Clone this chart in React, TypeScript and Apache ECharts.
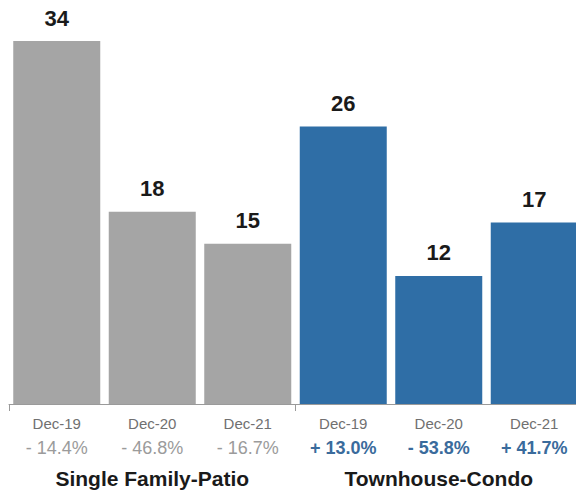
import React, { useEffect, useRef } from "react";
import * as echarts from "echarts";

const categories = ["Dec-19", "Dec-20", "Dec-21", "Dec-19", "Dec-20", "Dec-21"];
const values = [34, 18, 15, 26, 12, 17];
const changes = ["- 14.4%", "- 46.8%", "- 16.7%", "+ 13.0%", "- 53.8%", "+ 41.7%"];
const groups = ["Single Family-Patio", "Townhouse-Condo"];
const groupOf = [0, 0, 0, 1, 1, 1];

const GRAY = "#a5a5a5";
const BLUE = "#2f6ea6";
const FONT = "'Liberation Sans', Arial, Helvetica, sans-serif";

export default function App() {
  const ref = useRef<HTMLDivElement>(null);
  useEffect(() => {
    if (!ref.current) return;
    const chart = echarts.init(ref.current, undefined, { renderer: "svg" });
    chart.setOption({
      animation: false,
      backgroundColor: "#ffffff",
      textStyle: { fontFamily: FONT },
      grid: { left: 9, top: 41, right: 8, bottom: 88, containLabel: false },
      xAxis: [
        {
          type: "category",
          data: categories,
          position: "bottom",
          axisLine: { lineStyle: { color: "#9a9a9a", width: 1 } },
          axisTick: {
            show: true,
            length: 7,
            interval: (i: number) => i % 3 === 0,
            lineStyle: { color: "#9a9a9a" },
          },
          axisLabel: {
            margin: 8,
            interval: 0,
            formatter: (v: string, i: number) =>
              `{d|${v}}\n{${groupOf[i] === 0 ? "g" : "b"}|${changes[i]}}`,
            rich: {
              d: { fontSize: 15, color: "#707070", lineHeight: 22, fontFamily: FONT },
              g: { fontSize: 18, color: "#9b9b9b", lineHeight: 28, fontFamily: FONT },
              b: { fontSize: 18, color: "#3a6b9c", fontWeight: "bold", lineHeight: 28, fontFamily: FONT },
            },
          },
        },
        {
          type: "category",
          data: groups,
          position: "bottom",
          axisLine: { show: false },
          axisTick: { show: false },
          axisLabel: {
            margin: 64,
            interval: 0,
            fontSize: 21,
            fontWeight: "bold",
            color: "#1a1a1a",
            fontFamily: FONT,
          },
        },
      ],
      yAxis: {
        type: "value",
        min: 0,
        max: 34,
        show: false,
        splitLine: { show: false },
      },
      series: [
        {
          type: "bar",
          xAxisIndex: 0,
          barWidth: 87,
          data: values.map((v, i) => ({
            value: v,
            itemStyle: { color: groupOf[i] === 0 ? GRAY : BLUE },
          })),
          label: {
            show: true,
            position: "top",
            distance: 12,
            fontSize: 22,
            fontWeight: "bold",
            color: "#1a1a1a",
            fontFamily: FONT,
          },
        },
      ],
    });
    return () => chart.dispose();
  }, []);
  return (
    <div style={{ position: "absolute", left: 0, top: 0, width: 576, height: 492, overflow: "hidden", background: "#fff" }}>
      <div ref={ref} style={{ width: 590, height: 492 }} />
    </div>
  );
}
